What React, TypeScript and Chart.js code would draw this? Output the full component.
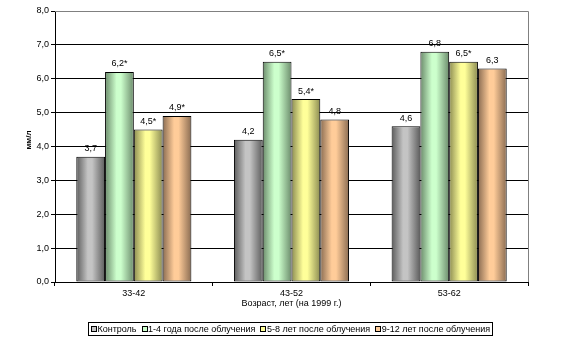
import React, { useEffect, useRef } from "react";
import { Chart, registerables } from "chart.js";

Chart.register(...registerables);

const categories = ["33-42", "43-52", "53-62"];
const seriesNames = [
  "Контроль",
  "1-4 года после облучения",
  "5-8 лет после облучения",
  "9-12 лет после облучения",
];
const control = [3.7, 4.2, 4.6];
const years1to4 = [6.2, 6.5, 6.8];
const years5to8 = [4.5, 5.4, 6.5];
const years9to12 = [4.9, 4.8, 6.3];
const controlMarks = ["", "", ""];
const years1to4Marks = ["*", "*", ""];
const years5to8Marks = ["*", "*", "*"];
const years9to12Marks = ["*", "", ""];
const yTicks = [0, 1, 2, 3, 4, 5, 6, 7, 8];
const xTitle = "Возраст, лет (на 1999 г.)";
const yTitle = "мм/л";

const seriesValues = [control, years1to4, years5to8, years9to12];
const seriesMarks = [controlMarks, years1to4Marks, years5to8Marks, years9to12Marks];
const lightColors = ["#c4c4c4", "#ccffcc", "#ffff99", "#ffcc99"];
const darkColors = ["#5c5c5c", "#6c8c6c", "#8c8c52", "#8a6c52"];

const FONT = "'Liberation Sans', Arial, sans-serif";
const fmt = (v: number) => v.toFixed(1).replace(".", ",");

export default function App() {
  const ref = useRef<HTMLCanvasElement>(null);
  useEffect(() => {
    document.body.style.margin = "0";
    const canvas = ref.current!;
    const gradientPlugin = {
      id: "gradBars",
      beforeDatasetsDraw(chart: any) {
        const ctx = chart.ctx;
        chart.data.datasets.forEach((_: any, i: number) => {
          const meta = chart.getDatasetMeta(i);
          meta.data.forEach((el: any) => {
            const { x, width } = el.getProps(["x", "width"], true);
            const left = x - width / 2;
            const g = ctx.createLinearGradient(left, 0, left + width, 0);
            g.addColorStop(0, darkColors[i]);
            g.addColorStop(0.4, lightColors[i]);
            g.addColorStop(0.55, lightColors[i]);
            g.addColorStop(1, darkColors[i]);
            el.options = Object.assign({}, el.options, { backgroundColor: g });
          });
        });
      },
      afterDatasetsDraw(chart: any) {
        const ctx = chart.ctx;
        ctx.save();
        ctx.font = `9px ${FONT}`;
        ctx.fillStyle = "#000";
        ctx.textAlign = "center";
        ctx.textBaseline = "middle";
        chart.data.datasets.forEach((_: any, i: number) => {
          const meta = chart.getDatasetMeta(i);
          meta.data.forEach((el: any, j: number) => {
            const { x, y } = el.getProps(["x", "y"], true);
            ctx.fillText(fmt(seriesValues[i][j]) + seriesMarks[i][j], x, y - 8);
          });
        });
        ctx.restore();
      },
      afterDraw(chart: any) {
        const ctx = chart.ctx;
        const a = chart.chartArea;
        ctx.save();
        // plot border (grey) top & right
        ctx.strokeStyle = "#808080";
        ctx.lineWidth = 1;
        ctx.beginPath();
        ctx.moveTo(a.left, a.top + 0.5);
        ctx.lineTo(a.right + 0.5, a.top + 0.5);
        ctx.lineTo(a.right + 0.5, a.bottom);
        ctx.stroke();
        // x title
        ctx.font = `9px ${FONT}`;
        ctx.fillStyle = "#000";
        ctx.textAlign = "center";
        ctx.textBaseline = "middle";
        ctx.fillText(xTitle, (a.left + a.right) / 2, 304);
        // y title
        ctx.save();
        ctx.translate(29, 140);
        ctx.rotate(-Math.PI / 2);
        ctx.font = `bold 8px ${FONT}`;
        ctx.fillStyle = "#000";
        ctx.textAlign = "center";
        ctx.textBaseline = "middle";
        ctx.fillText(yTitle, 0, 0);
        ctx.restore();
        // legend
        ctx.font = `9px ${FONT}`;
        const sw = 5;
        const gapIn = 1.5;
        const gapOut = 5;
        const widths = seriesNames.map((n) => sw + gapIn + ctx.measureText(n).width);
        const total = widths.reduce((s, w) => s + w, 0) + gapOut * (seriesNames.length - 1);
        const cx = 290.5;
        let x = cx - total / 2;
        const cy = 329;
        ctx.strokeStyle = "#000";
        ctx.strokeRect(Math.round(x - 2.5) + 0.5, 322.5, Math.round(total + 5), 13);
        ctx.textBaseline = "middle";
        ctx.textAlign = "left";
        seriesNames.forEach((n, i) => {
          ctx.fillStyle = lightColors[i];
          ctx.fillRect(Math.round(x) + 0.5, cy - 3, sw, sw);
          ctx.strokeStyle = "#000";
          ctx.strokeRect(Math.round(x) + 0.5, cy - 3 + 0.5, sw, sw);
          ctx.fillStyle = "#000";
          ctx.fillText(n, x + sw + gapIn, cy + 0.5);
          x += widths[i] + gapOut;
        });
        ctx.restore();
      },
    };

    const chart = new Chart(canvas, {
      type: "bar",
      data: {
        labels: categories,
        datasets: seriesValues.map((vals, i) => ({
          label: seriesNames[i],
          data: vals,
          backgroundColor: lightColors[i],
          borderColor: "#000",
          borderWidth: 1,
          borderSkipped: false,
          barPercentage: 1,
          categoryPercentage: 0.73,
        })),
      },
      options: {
        responsive: false,
        animation: false,
        events: [],
        layout: { padding: { top: 11, right: 39, left: 0, bottom: 0 } },
        plugins: {
          legend: { display: false },
          tooltip: { enabled: false },
          title: { display: false },
        },
        scales: {
          x: {
            afterFit: (s: any) => {
              s.height = 71;
            },
            grid: {
              offset: true,
              drawOnChartArea: false,
              drawTicks: true,
              tickLength: 4,
              color: "#000",
              tickColor: "#000",
            },
            border: { display: true, color: "#000", width: 1 },
            ticks: { font: { family: FONT, size: 9 }, color: "#000", padding: 2 },
          },
          y: {
            min: 0,
            max: 8,
            afterFit: (s: any) => {
              s.width = 55;
            },
            afterBuildTicks: (s: any) => {
              s.ticks = yTicks.map((v) => ({ value: v }));
            },
            grid: {
              color: (c: any) => (c.tick && c.tick.value === 8 ? "#808080" : "#000"),
              tickColor: "#000",
              tickLength: 4,
              drawTicks: true,
            },
            border: { display: true, color: "#000", width: 1 },
            ticks: {
              stepSize: 1,
              font: { family: FONT, size: 9 },
              color: "#000",
              padding: 2,
              callback: (v: any) => fmt(Number(v)),
            },
          },
        },
      },
      plugins: [gradientPlugin],
    });
    return () => chart.destroy();
  }, []);
  return (
    <div style={{ width: 567, height: 353, background: "#fff" }}>
      <canvas ref={ref} width={567} height={353} style={{ display: "block" }} />
    </div>
  );
}
